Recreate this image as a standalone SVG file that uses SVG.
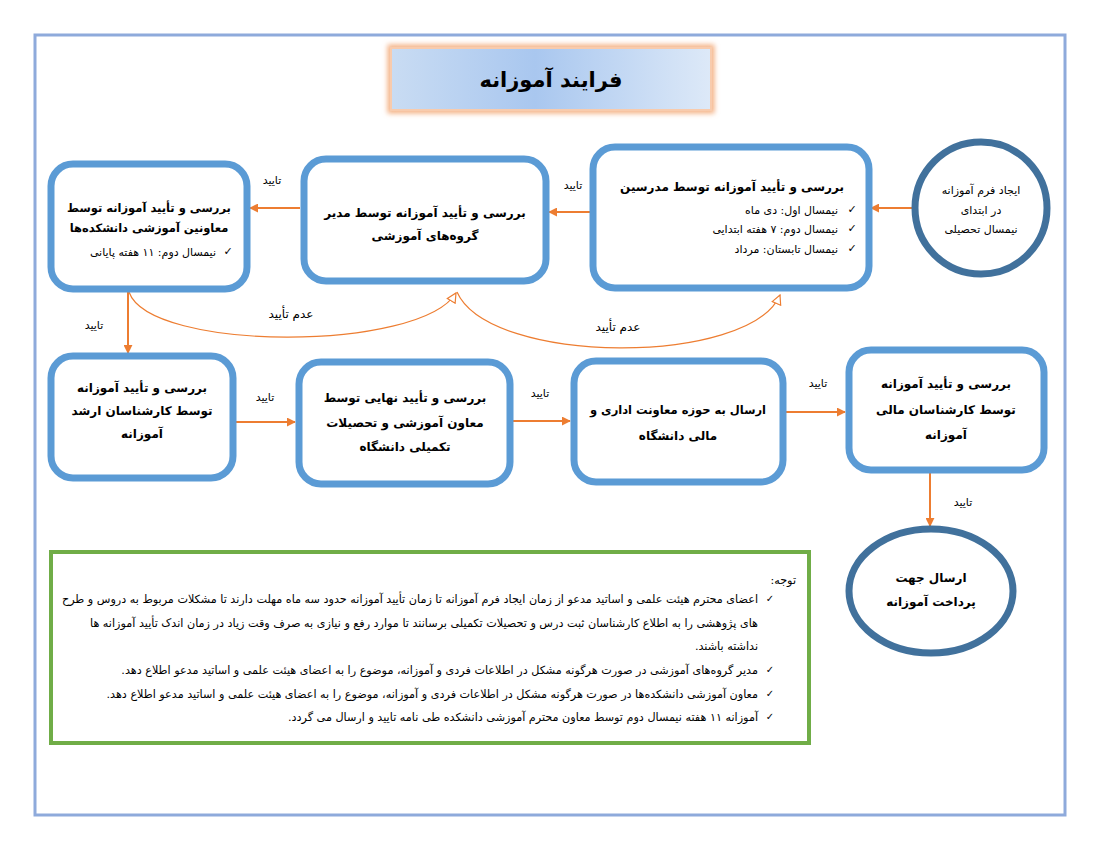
<svg xmlns="http://www.w3.org/2000/svg" width="1100" height="850" viewBox="0 0 1100 850">
<defs>
<linearGradient id="tg" x1="0" y1="0" x2="1" y2="0">
<stop offset="0" stop-color="#c9dcf3"/>
<stop offset="0.45" stop-color="#a9c7ef"/>
<stop offset="1" stop-color="#dde9f8"/>
</linearGradient>
<filter id="glow" x="-10%" y="-30%" width="120%" height="160%">
<feGaussianBlur stdDeviation="2.5"/>
</filter>
<marker id="ah" viewBox="0 0 10 10" refX="9" refY="5" markerWidth="9" markerHeight="9" markerUnits="userSpaceOnUse" orient="auto">
<path d="M0,0 L10,5 L0,10 z" fill="#ed7d31"/>
</marker>
<marker id="ao" viewBox="0 0 12 12" refX="11" refY="6" markerWidth="11" markerHeight="11" markerUnits="userSpaceOnUse" orient="auto">
<path d="M1,1 L11,6 L1,11 z" fill="#fff" stroke="#ed7d31" stroke-width="1.3"/>
</marker>
</defs>
<style>
text{font-family:"DejaVu Sans","Noto Sans",sans-serif;fill:#000;}
.box{fill:#fff;stroke:#5b9bd5;stroke-width:7;}
.circ{fill:#fff;stroke:#41719c;stroke-width:7;}
.t{font-size:12px;font-weight:bold;text-anchor:middle;direction:rtl;}
.s{font-size:11px;direction:rtl;text-anchor:start;}
.cs{font-size:11px;text-anchor:middle;direction:rtl;}
.lbl{font-size:11px;text-anchor:middle;direction:rtl;}
.ck{font-size:11px;text-anchor:middle;}
.n{font-size:11.2px;direction:rtl;text-anchor:start;}
.line{fill:none;stroke:#ed7d31;stroke-width:2;}
.thin{fill:none;stroke:#ed7d31;stroke-width:1.2;}
</style>
<rect x="0" y="0" width="1100" height="850" fill="#fff"/>
<rect x="35" y="35" width="1030" height="780" fill="none" stroke="#8eaadb" stroke-width="3"/>

<g id="title">
<rect x="391" y="48" width="320" height="62" fill="none" stroke="#f4b183" stroke-width="7" filter="url(#glow)"/>
<rect x="391" y="48" width="320" height="62" fill="url(#tg)" stroke="#f8cbad" stroke-width="2"/>
<text x="551" y="87" style="font-size:21px;font-weight:bold;text-anchor:middle;direction:rtl;">فرایند آموزانه</text>
</g>

<g id="connectors">
<line class="line" x1="915" y1="208" x2="871" y2="208" marker-end="url(#ah)"/>
<line class="line" x1="590" y1="212" x2="549" y2="212" marker-end="url(#ah)"/>
<line class="line" x1="300" y1="208" x2="250" y2="208" marker-end="url(#ah)"/>
<line class="line" x1="128" y1="292" x2="128" y2="353" marker-end="url(#ah)"/>
<line class="line" x1="236" y1="422" x2="295" y2="422" marker-end="url(#ah)"/>
<line class="line" x1="513" y1="421" x2="570" y2="421" marker-end="url(#ah)"/>
<line class="line" x1="786" y1="412" x2="845" y2="412" marker-end="url(#ah)"/>
<line class="line" x1="930" y1="473" x2="930" y2="526" marker-end="url(#ah)"/>
<path class="thin" d="M129,292 C150,352 420,352 456,293" marker-end="url(#ao)"/>
<path class="thin" d="M457,292 C490,366 750,366 780,295" marker-end="url(#ao)"/>
<text class="lbl" x="573" y="189">تایید</text>
<text class="lbl" x="272" y="184">تایید</text>
<text class="lbl" x="94" y="329">تایید</text>
<text class="lbl" x="291" y="318" style="font-size:12px">عدم تأیید</text>
<text class="lbl" x="618" y="331" style="font-size:12px">عدم تأیید</text>
<text class="lbl" x="265" y="401">تایید</text>
<text class="lbl" x="540" y="397">تایید</text>
<text class="lbl" x="818" y="387">تایید</text>
<text class="lbl" x="963" y="506">تایید</text>
</g>

<g id="start">
<circle class="circ" cx="981" cy="208" r="66"/>
<text class="cs" x="981" y="194">ایجاد فرم آموزانه</text>
<text class="cs" x="981" y="214">در ابتدای</text>
<text class="cs" x="981" y="233">نیمسال تحصیلی</text>
</g>

<g id="teachers">
<rect class="box" x="593" y="147" width="276" height="141" rx="22"/>
<text class="t" x="732" y="191">بررسی و تأیید آموزانه توسط مدرسین</text>
<text class="ck" x="852" y="213">✓</text>
<text class="s" x="838" y="214">نیمسال اول: دی ماه</text>
<text class="ck" x="852" y="232">✓</text>
<text class="s" x="838" y="233">نیمسال دوم: ۷ هفته ابتدایی</text>
<text class="ck" x="852" y="252">✓</text>
<text class="s" x="838" y="253">نیمسال تابستان: مرداد</text>
</g>

<g id="groups">
<rect class="box" x="304" y="159" width="242" height="122" rx="22"/>
<text class="t" x="425" y="217">بررسی و تأیید آموزانه توسط مدیر</text>
<text class="t" x="425" y="240">گروه‌های آموزشی</text>
</g>

<g id="faculty">
<rect class="box" x="51" y="164" width="196" height="125" rx="22"/>
<text class="t" x="149" y="212" style="font-size:11.5px">بررسی و تأیید آموزانه توسط</text>
<text class="t" x="149" y="232" style="font-size:11.5px">معاونین آموزشی دانشکده‌ها</text>
<text class="ck" x="228" y="255">✓</text>
<text class="s" x="216" y="256">نیمسال دوم: ۱۱ هفته پایانی</text>
</g>

<g id="senior">
<rect class="box" x="51" y="356" width="182" height="122" rx="22"/>
<text class="t" x="142" y="392">بررسی و تأیید آموزانه</text>
<text class="t" x="142" y="415">توسط کارشناسان ارشد</text>
<text class="t" x="142" y="438">آموزانه</text>
</g>

<g id="final">
<rect class="box" x="299" y="362" width="211" height="122" rx="22"/>
<text class="t" x="405" y="402">بررسی و تأیید نهایی توسط</text>
<text class="t" x="405" y="427">معاون آموزشی و تحصیلات</text>
<text class="t" x="405" y="451">تکمیلی دانشگاه</text>
</g>

<g id="admin">
<rect class="box" x="574" y="361" width="209" height="121" rx="22"/>
<text class="t" x="678" y="414" style="font-size:11.5px">ارسال به حوزه معاونت اداری و</text>
<text class="t" x="678" y="440">مالی دانشگاه</text>
</g>

<g id="finance">
<rect class="box" x="849" y="350" width="195" height="120" rx="22"/>
<text class="t" x="946" y="388">بررسی و تأیید آموزانه</text>
<text class="t" x="946" y="414">توسط کارشناسان مالی</text>
<text class="t" x="946" y="439">آموزانه</text>
</g>

<g id="payment">
<ellipse class="circ" cx="931" cy="591" rx="82" ry="62"/>
<text class="t" x="931" y="582">ارسال جهت</text>
<text class="t" x="931" y="606">پرداخت آموزانه</text>
</g>

<g id="notes">
<rect x="51" y="552" width="758" height="191" fill="#fff" stroke="#70ad47" stroke-width="4"/>
<text class="n" x="796" y="584">توجه:</text>
<text class="ck" x="770" y="602" style="font-size:10px">✓</text>
<text class="n" x="758" y="603">اعضای محترم هیئت علمی و اساتید مدعو از زمان ایجاد فرم آموزانه تا زمان تأیید آموزانه حدود سه ماه مهلت دارند تا مشکلات مربوط به دروس و طرح</text>
<text class="n" x="758" y="627">های پژوهشی را به اطلاع کارشناسان ثبت درس و تحصیلات تکمیلی برسانند تا موارد رفع و نیازی به صرف وقت زیاد در زمان اندک تأیید آموزانه ها</text>
<text class="n" x="758" y="650">نداشته باشند.</text>
<text class="ck" x="770" y="673" style="font-size:10px">✓</text>
<text class="n" x="758" y="674">مدیر گروه‌های آموزشی در صورت هرگونه مشکل در اطلاعات فردی و آموزانه، موضوع را به اعضای هیئت علمی و اساتید مدعو اطلاع دهد.</text>
<text class="ck" x="770" y="697" style="font-size:10px">✓</text>
<text class="n" x="758" y="698">معاون آموزشی دانشکده‌ها در صورت هرگونه مشکل در اطلاعات فردی و آموزانه، موضوع را به اعضای هیئت علمی و اساتید مدعو اطلاع دهد.</text>
<text class="ck" x="770" y="720" style="font-size:10px">✓</text>
<text class="n" x="758" y="721">آموزانه ۱۱ هفته نیمسال دوم توسط معاون محترم آموزشی دانشکده طی نامه تایید و ارسال می گردد.</text>
</g>
</svg>
